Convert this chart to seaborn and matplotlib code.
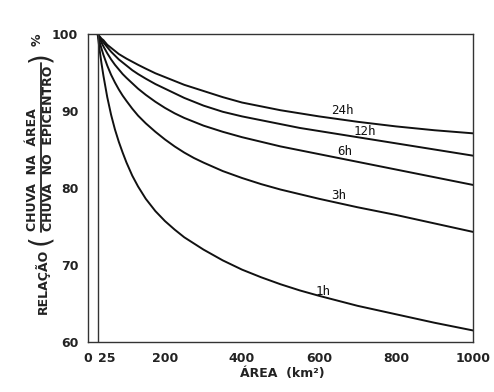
import matplotlib
matplotlib.use("Agg")
import matplotlib.pyplot as plt
import seaborn as sns
import pandas as pd
from matplotlib.lines import Line2D

# ---- data ----
AREA = [25, 30, 35, 40, 50, 60, 70, 80, 90, 100, 115, 130, 150, 175, 200, 225, 250,
        275, 300, 350, 400, 450, 500, 550, 600, 700, 800, 900, 1000]
H24 = [100, 99.7, 99.4, 99.2, 98.6, 98.2, 97.8, 97.4, 97.1, 96.8, 96.4, 96.0, 95.5,
       94.9, 94.4, 93.9, 93.4, 93.0, 92.6, 91.8, 91.1, 90.6, 90.1, 89.7, 89.3, 88.6,
       88.0, 87.5, 87.1]
H12 = [100, 99.6, 99.2, 98.9, 98.3, 97.7, 97.2, 96.7, 96.3, 95.9, 95.3, 94.8, 94.2,
       93.5, 92.9, 92.3, 91.7, 91.2, 90.7, 89.9, 89.3, 88.8, 88.3, 87.8, 87.4, 86.6,
       85.8, 85.0, 84.2]
H6 = [100, 99.4, 98.9, 98.4, 97.5, 96.7, 96.0, 95.4, 94.8, 94.3, 93.6, 92.9, 92.1,
      91.2, 90.4, 89.7, 89.1, 88.6, 88.1, 87.3, 86.6, 86.0, 85.4, 84.9, 84.4, 83.4,
      82.4, 81.4, 80.4]
H3 = [100, 99.0, 98.1, 97.3, 95.9, 94.7, 93.7, 92.8, 92.0, 91.3, 90.3, 89.4, 88.4,
      87.3, 86.3, 85.4, 84.6, 83.9, 83.3, 82.2, 81.3, 80.5, 79.8, 79.2, 78.6, 77.5,
      76.5, 75.4, 74.3]
H1 = [100, 98.0, 96.2, 94.6, 91.8, 89.5, 87.6, 86.0, 84.6, 83.3, 81.6, 80.2, 78.6,
      77.0, 75.7, 74.6, 73.6, 72.8, 72.0, 70.6, 69.4, 68.4, 67.5, 66.7, 66.0, 64.7,
      63.6, 62.5, 61.5]
DURATIONS = ["24h", "12h", "6h", "3h", "1h"]
LABEL_X = [660, 719, 668, 650, 610]
LABEL_Y = [90.1, 87.3, 84.7, 79.0, 66.5]
XTICKS = [0, 25, 200, 400, 600, 800, 1000]
YTICKS = [60, 70, 80, 90, 100]

series = {"24h": H24, "12h": H12, "6h": H6, "3h": H3, "1h": H1}
rows = []
for d in DURATIONS:
    for a, v in zip(AREA, series[d]):
        rows.append({"area": a, "ratio": v, "dur": d})
df = pd.DataFrame(rows)

sns.set_theme(style="white")
plt.rcParams["font.family"] = ["DejaVu Sans"]

fig = plt.figure(figsize=(4.94, 3.92), dpi=100)
ax = fig.add_axes([88 / 494, 1 - 342 / 392, 385 / 494, 308 / 392])

sns.lineplot(data=df, x="area", y="ratio", hue="dur", hue_order=DURATIONS,
             palette={d: "#111111" for d in DURATIONS}, legend=False,
             linewidth=1.4, ax=ax)
for ln in ax.get_lines():
    ln.set_solid_joinstyle("round")

ax.axvline(25, color="#333333", lw=1.0)
ax.set_xlim(0, 1000)
ax.set_ylim(60, 100)
ax.set_xticks(XTICKS)
ax.set_xticklabels([str(t) for t in XTICKS])
ax.set_yticks(YTICKS)
ax.set_yticklabels([str(t) for t in YTICKS])
ax.tick_params(axis="both", which="major", direction="out", length=5, width=1,
               color="#333333", labelsize=9, pad=2)
for lab in ax.get_xticklabels() + ax.get_yticklabels():
    lab.set_fontweight("bold")
    lab.set_color("#222222")
ax.get_xticklabels()[1].set_horizontalalignment("left")
for s in ax.spines.values():
    s.set_visible(True)
    s.set_color("#333333")
    s.set_linewidth(1.0)
ax.set_xlabel("")
ax.set_ylabel("")

for d, lx, ly in zip(DURATIONS, LABEL_X, LABEL_Y):
    ax.text(lx, ly, d, ha="center", va="center", fontsize=9,
            family="DejaVu Sans Mono", color="#111111")

# x-axis label
fig.text(282 / 494, 1 - 373 / 392, "ÁREA  (km²)", ha="center", va="center",
         fontsize=9, fontweight="bold", color="#222222")

# y-axis composite label
def fy(py):
    return 1 - py / 392

def fx(px):
    return px / 494

fig.text(fx(42), fy(281), "RELAÇÃO", rotation=90, ha="center", va="center",
         fontsize=9, fontweight="bold", color="#222222")
fig.text(fx(40), fy(240), "(", rotation=90, ha="center", va="center",
         fontsize=20, color="#222222")
fig.text(fx(33), fy(170), "CHUVA  NA  ÁREA", rotation=90, ha="center", va="center",
         fontsize=9, fontweight="bold", color="#222222")
fig.text(fx(48), fy(148), "CHUVA  NO  EPICENTRO", rotation=90, ha="center", va="center",
         fontsize=9, fontweight="bold", color="#222222")
fig.add_artist(Line2D([fx(40.5), fx(40.5)], [fy(232), fy(63)], color="#222222", lw=1.3,
                      transform=fig.transFigure))
fig.text(fx(40), fy(57), ")", rotation=90, ha="center", va="center",
         fontsize=20, color="#222222")
fig.text(fx(37), fy(40), "%", rotation=90, ha="center", va="center",
         fontsize=9, fontweight="bold", color="#222222")

fig.savefig("out.png", dpi=100)
